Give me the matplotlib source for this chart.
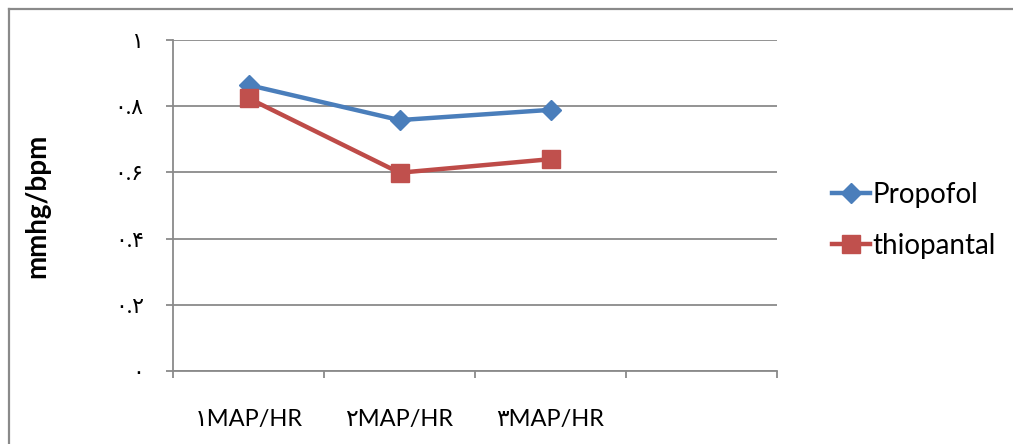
import matplotlib
matplotlib.use('Agg')
import matplotlib.pyplot as plt
from matplotlib.lines import Line2D

# داده‌ها
categories = ['١MAP/HR', '٢MAP/HR', '٣MAP/HR', '']
propofol = [0.864, 0.758, 0.789]
thiopantal = [0.824, 0.599, 0.640]
y_ticks = [0, 0.2, 0.4, 0.6, 0.8, 1.0]
y_labels = ['٠', '٠.٢', '٠.۴', '٠.۶', '٠.٨', '١']

plt.rcParams['font.family'] = ['Lato', 'DejaVu Sans']

GRID = '#8a8a8a'
BLUE = '#4A7EBB'
RED = '#BE4B48'


def main():
    fig = plt.figure(figsize=(10.13, 4.44), dpi=100)
    ax = fig.add_axes([173 / 1013, 1 - 371 / 444, 604 / 1013, 331 / 444])

    x = list(range(len(propofol)))
    ax.plot(x, propofol, color=BLUE, lw=3.2, marker='D', markersize=10,
            markerfacecolor=BLUE, markeredgecolor=BLUE, label='Propofol')
    ax.plot(x, thiopantal, color=RED, lw=3.2, marker='s', markersize=13,
            markerfacecolor='#C0504D', markeredgecolor='#C0504D', label='thiopantal')

    ax.set_xlim(-0.5, len(categories) - 0.5)
    ax.set_ylim(0, 1)

    # خطوط شبکه و محورها
    ax.set_yticks(y_ticks)
    ax.set_yticklabels(y_labels, fontsize=16)
    ax.yaxis.grid(True, color=GRID, lw=1.3)
    ax.set_axisbelow(True)

    ax.set_xticks([i - 0.5 for i in range(len(categories) + 1)])
    ax.set_xticklabels([])
    ax.set_xticks(range(len(categories)), minor=True)
    ax.set_xticklabels(categories, minor=True, fontsize=17)
    ax.tick_params(axis='x', which='major', direction='out', length=5, width=1.3, color=GRID)
    ax.tick_params(axis='x', which='minor', length=0, pad=27)
    ax.tick_params(axis='y', direction='out', length=5, width=1.3, color=GRID, pad=16)

    for s in ['top', 'right']:
        ax.spines[s].set_visible(False)
    for s in ['left', 'bottom']:
        ax.spines[s].set_color(GRID)
        ax.spines[s].set_linewidth(1.3)

    ax.set_ylabel('mmhg/bpm', fontsize=20, fontweight='bold')
    ax.yaxis.set_label_coords(-123 / 604, 0.5)

    ax.legend(loc='center left', bbox_to_anchor=(807 / 1013, 1 - 220 / 444),
              bbox_transform=fig.transFigure, frameon=False, fontsize=20,
              handlelength=1.35, handletextpad=0.1, labelspacing=0.9)

    # قاب دور نمودار
    fig.add_artist(Line2D([9 / 1013, 1], [1 - 9.5 / 444, 1 - 9.5 / 444],
                          transform=fig.transFigure, color=GRID, lw=1.6))
    fig.add_artist(Line2D([9 / 1013, 9 / 1013], [0, 1 - 9.5 / 444],
                          transform=fig.transFigure, color=GRID, lw=1.6))

    fig.savefig('out.png', dpi=100, facecolor='white')


if __name__ == '__main__':
    main()
